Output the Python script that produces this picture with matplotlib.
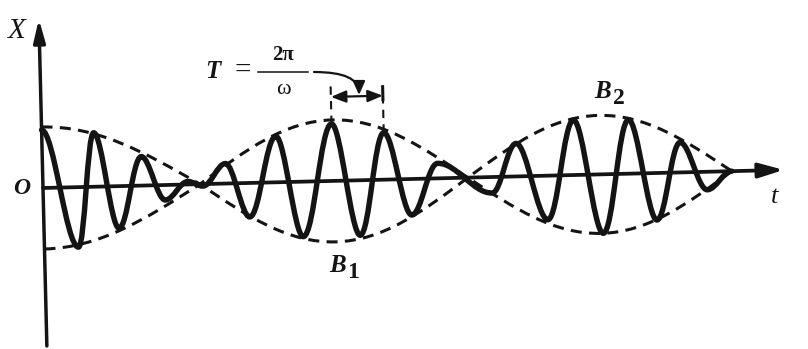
import numpy as np
import matplotlib.pyplot as plt
from matplotlib.path import Path
from matplotlib.patches import PathPatch
from matplotlib.transforms import Affine2D

# Turning points of the beating oscillation (t along the axis, x displacement)
turn_t = [0, 34, 52, 75, 99, 122, 145, 160, 183, 206, 234, 259, 290, 316,
          342, 368, 395, 449, 474, 504, 532, 559, 587, 613, 638, 664, 689]
turn_x = [58, -60, 54, -42, 29, -15, 3, -2, 20, -34, 46, -55, 57, -55,
          47, -36, 15, -16, 33, -44, 55, -59, 54, -47, 30, -18, 0]

# Envelope: crests B and nodes
crest_t = [0, 291, 557]
crest_x = [61, 61, 59]
node_t = [157, 425, 689]

INK = '#141414'
SERIF = 'Liberation Serif'

fig = plt.figure(figsize=(8.08, 3.49), dpi=100)
ax = fig.add_axes([0, 0, 1, 1])
ax.set_xlim(0, 808)
ax.set_ylim(349, 0)
ax.axis('off')

# the t-x frame sits slightly tilted on the page
tilt = np.deg2rad(1.4)
c, s = np.cos(tilt), np.sin(tilt)
frame = Affine2D(np.array([[c, -s, 43.0], [-s, -c, 188.0], [0, 0, 1]])) + ax.transData


def wave_path(ts, xs, k=0.363):
    # cubic segments with flat tangents at each turning point
    verts = [(ts[0], xs[0])]
    codes = [Path.MOVETO]
    for t0, x0, t1, x1 in zip(ts[:-1], xs[:-1], ts[1:], xs[1:]):
        d = t1 - t0
        verts += [(t0 + k * d, x0), (t1 - k * d, x1), (t1, x1)]
        codes += [Path.CURVE4] * 3
    return Path(verts, codes)


def envelope_path(sign):
    pts = []
    for i in range(len(crest_t)):
        pts.append((crest_t[i], sign * crest_x[i]))
        pts.append((node_t[i], 0.0))
    verts = [pts[0]]
    codes = [Path.MOVETO]
    for (t0, x0), (t1, x1) in zip(pts[:-1], pts[1:]):
        d = t1 - t0
        if x1 == 0:  # crest -> node
            verts += [(t0 + 0.352 * d, x0), (t0 + 0.648 * d, 0.552 * x0), (t1, x1)]
        else:        # node -> crest
            verts += [(t0 + 0.352 * d, 0.552 * x1), (t0 + 0.648 * d, x1), (t1, x1)]
        codes += [Path.CURVE4] * 3
    return Path(verts, codes)


# axes
ax.annotate('', xy=(741, 0), xytext=(0, 0), xycoords=frame, textcoords=frame,
            arrowprops=dict(arrowstyle='-|>,head_length=0.68,head_width=0.2',
                            lw=2.7, color=INK, mutation_scale=22, shrinkA=0, shrinkB=0))
ax.annotate('', xy=(0, 169), xytext=(0, -158), xycoords=frame, textcoords=frame,
            arrowprops=dict(arrowstyle='-|>,head_length=0.62,head_width=0.16',
                            lw=2.5, color=INK, mutation_scale=22, shrinkA=0, shrinkB=0))

# envelope
for sign in (1, -1):
    ax.add_patch(PathPatch(envelope_path(sign), transform=frame, fill=False,
                           edgecolor=INK, lw=2.2, linestyle=(0, (3.6, 2.4))))

# oscillation
ax.add_patch(PathPatch(wave_path(turn_t, turn_x), transform=frame, fill=False,
                       edgecolor=INK, lw=3.9, capstyle='round', joinstyle='round'))

# period bracket between two neighbouring crests
p1, p2 = turn_t[12], turn_t[14]
ax.plot([p1, p1], [turn_x[12], 98], transform=frame, color=INK, lw=1.5,
        linestyle=(0, (4, 3)))
ax.plot([p2, p2], [turn_x[14], 80], transform=frame, color=INK, lw=1.5,
        linestyle=(0, (4, 3)))
ax.annotate('', xy=(p1, 84), xytext=(p2, 84), xycoords=frame, textcoords=frame,
            arrowprops=dict(arrowstyle='<|-|>,head_length=0.5,head_width=0.2',
                            lw=1.6, color=INK, mutation_scale=18, shrinkA=0, shrinkB=0))
ax.plot([p2, p2], [80, 93], transform=frame, color=INK, lw=2.2)

# T = 2pi / omega
ax.text(213, 72, 'T', family=SERIF, style='italic', weight='bold', fontsize=18,
        ha='center', va='center', color=INK)
ax.text(243, 71, '=', family=SERIF, fontsize=21, ha='center', va='center', color=INK)
ax.plot([258, 308], [72, 72], color=INK, lw=1.1)
ax.text(283, 55, '2π', family=SERIF, weight='bold', fontsize=15,
        ha='center', va='center', color=INK)
ax.text(283, 90, 'ω', family=SERIF, fontsize=16, ha='center', va='center', color=INK)
ax.annotate('', xy=(359, 95), xytext=(314, 72),
            arrowprops=dict(arrowstyle='-|>,head_length=0.45,head_width=0.2',
                            connectionstyle='angle3,angleA=0,angleB=90',
                            lw=1.6, color=INK, mutation_scale=18, shrinkA=0, shrinkB=0))

# axis names and labels
ax.text(17, 31, 'X', family=SERIF, style='italic', fontsize=21,
        ha='center', va='center', color=INK)
ax.text(22, 189, 'O', family=SERIF, style='italic', weight='bold', fontsize=17,
        ha='center', va='center', color=INK)
ax.text(775, 197, 't', family=SERIF, style='italic', fontsize=19,
        ha='center', va='center', color=INK)
ax.text(338, 265, 'B', family=SERIF, style='italic', weight='bold', fontsize=18,
        ha='center', va='center', color=INK)
ax.text(353, 272, '1', family=SERIF, weight='bold', fontsize=17,
        ha='center', va='center', color=INK)
ax.text(603, 92, 'B', family=SERIF, style='italic', weight='bold', fontsize=18,
        ha='center', va='center', color=INK)
ax.text(619, 99, '2', family=SERIF, weight='bold', fontsize=17,
        ha='center', va='center', color=INK)

fig.savefig('out.png', dpi=100, facecolor='white')
